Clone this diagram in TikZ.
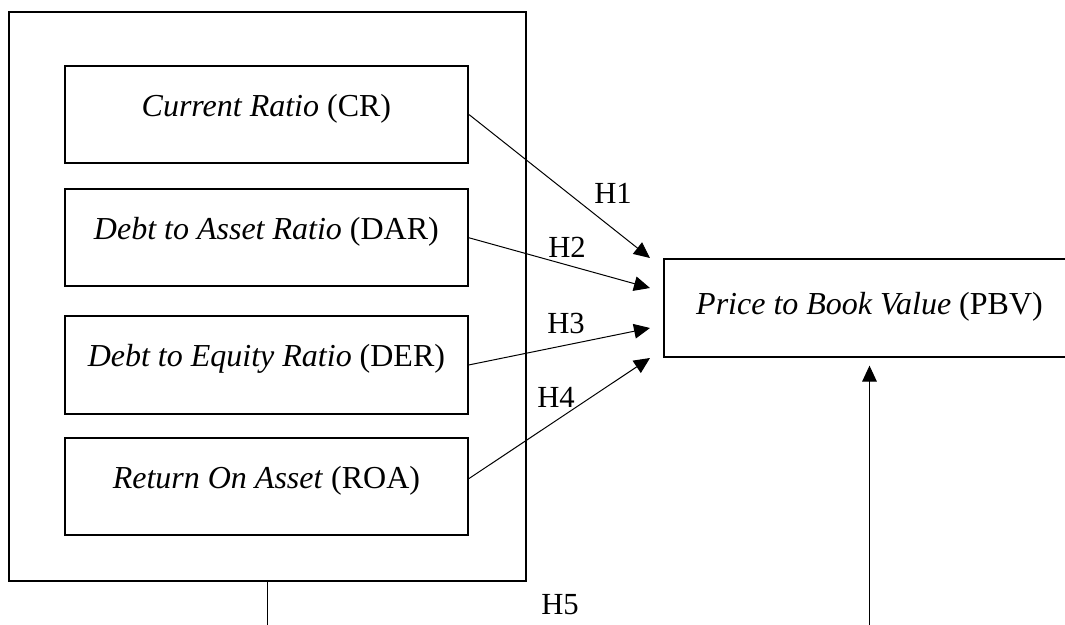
\documentclass[tikz,border=0pt]{standalone}
\usepackage{fontspec}
\setmainfont{Liberation Serif}
\usetikzlibrary{arrows.meta}
\tikzstyle{varbox}=[draw, line width=1.5pt, minimum width=302.5pt, minimum height=73pt, inner sep=0pt, font=\fontsize{24}{28}\selectfont, text height=16.5pt, text depth=13.5pt]
\tikzstyle{hlabel}=[inner sep=0pt, font=\fontsize{23}{27}\selectfont]
\tikzstyle{link}=[line width=0.75pt, -{Triangle[length=12pt,width=11pt]}]

\begin{document}
\begin{tikzpicture}[x=0.75pt,y=-0.75pt]

        \useasboundingbox (0,0) rectangle (1065,625);
        \clip (0,0) rectangle (1065,625);

        % independent variables
        \node [draw, line width=1.5pt, minimum width=387.75pt, minimum height=426.75pt] (group) at (267.5,296.5) {};

        \node [varbox] (cr) at (266.4,114.6) {\textit{Current Ratio} (CR)};
        \node [varbox] (dar) at (266.4,237.8) {\textit{Debt to Asset Ratio} (DAR)};
        \node [varbox] (der) at (266.4,364.9) {\textit{Debt to Equity Ratio} (DER)};
        \node [varbox] (roa) at (266.4,486.5) {\textit{Return On Asset} (ROA)};

        % dependent variable
        \node [varbox, minimum width=308pt, text depth=7.5pt] (pbv) at (869.5,308) {\textit{Price to Book Value} (PBV)};

        \coordinate (tip1) at (650,258);
        \coordinate (tip2) at (650,288);
        \coordinate (tip3) at (650,328);
        \coordinate (tip4) at (650,358);

        \draw [link] (cr.east) -- (tip1);
        \draw [link] (dar.east) -- (tip2);
        \draw [link] (der.east) -- (tip3);
        \draw [link] ([yshift=6pt]roa.east) -- (tip4);

        \node [hlabel] (h1) at (613,193) {H1};
        \node [hlabel] (h2) at (567,247) {H2};
        \node [hlabel] (h3) at (566,323) {H3};
        \node [hlabel] (h4) at (556,397) {H4};
        \node [hlabel] (h5) at (560,605) {H5};

        % simultaneous
        \coordinate (leftfoot) at (267.5,625);
        \coordinate (rightfoot) at (869.5,625);
        \draw [line width=0.75pt] (group.south) -- (leftfoot);
        \draw [link] (rightfoot) -- ([yshift=-6pt]pbv.south);

%        \node [hlabel] at (560,640) {H6};
    \end{tikzpicture}
\end{document}
